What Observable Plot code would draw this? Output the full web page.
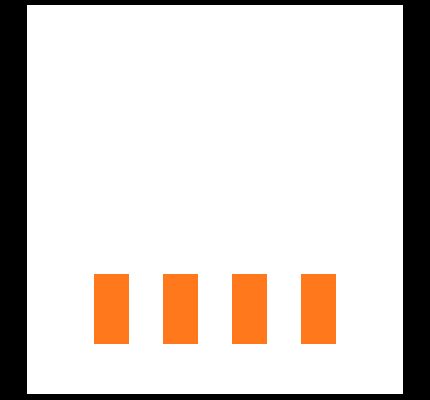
<!DOCTYPE html>
<html>
<head>
<meta charset="utf-8">
<script src="https://cdn.jsdelivr.net/npm/d3@7"></script>
<script src="https://cdn.jsdelivr.net/npm/@observablehq/plot@0.6"></script>
<style>
  html, body { margin: 0; padding: 0; background: #000; }
  #chart { position: absolute; left: 27px; top: 5px; }
  #chart svg { background: #fff; display: block; }
</style>
</head>
<body>
<div id="chart"></div>
<script>
const categories = ["A", "B", "C", "D"];
const lows = [10, 10, 10, 10];
const highs = [30, 30, 30, 30];

const data = categories.map((c, i) => ({cat: c, lo: lows[i], hi: highs[i]}));

const chart = Plot.plot({
  width: 376,
  height: 389,
  marginLeft: 32,
  marginRight: 32,
  marginTop: 24,
  marginBottom: 15,
  style: {background: "#fff"},
  x: {domain: categories, padding: 0.5, axis: null},
  y: {domain: [0, 100], axis: null},
  marks: [
    Plot.barY(data, {x: "cat", y1: "lo", y2: "hi", fill: "#ff791c"})
  ]
});
document.getElementById("chart").appendChild(chart);
</script>
</body>
</html>
